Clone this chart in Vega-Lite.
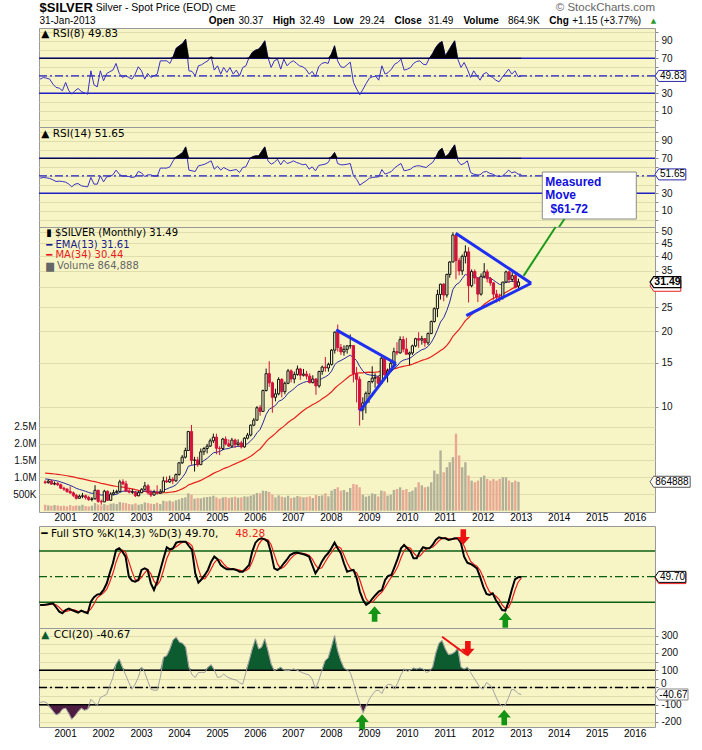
{
"$schema":"https://vega.github.io/schema/vega-lite/v6.json",
"background":"white",
"padding":{"left":12,"top":0,"right":0,"bottom":0},
"bounds":"flush",
"spacing":0,
"config":{"font":"Liberation Sans","axis":{"labelFont":"Liberation Sans","labelFontSize":10,"labelColor":"#111"},"text":{"font":"DejaVu Sans","fontSize":10.5}},
"datasets":{"m":[
{"d":"2000-05-01","o":5.00,"h":5.08,"l":4.90,"c":4.97,"v":180000,"e":5.139,"m":5.422,"r8":46.2,"r14":47.3,"k":16.9,"kd":17.2,"cci":-87},
{"d":"2000-06-01","o":4.97,"h":5.12,"l":4.92,"c":5.04,"v":160000,"e":5.125,"m":5.410,"r8":48.1,"r14":48.1,"k":16.9,"kd":16.9,"cci":-82},
{"d":"2000-07-01","o":5.04,"h":5.10,"l":4.88,"c":4.90,"v":150000,"e":5.093,"m":5.394,"r8":47.3,"r14":47.7,"k":17.3,"kd":17.03,"cci":-87},
{"d":"2000-08-01","o":4.90,"h":5.02,"l":4.85,"c":4.93,"v":170000,"e":5.070,"m":5.378,"r8":46.2,"r14":47.0,"k":18.1,"kd":17.43,"cci":-113},
{"d":"2000-09-01","o":4.93,"h":5.00,"l":4.82,"c":4.87,"v":160000,"e":5.041,"m":5.361,"r8":40.5,"r14":45.4,"k":18.8,"kd":18.07,"cci":-136},
{"d":"2000-10-01","o":4.87,"h":4.92,"l":4.68,"c":4.72,"v":140000,"e":4.995,"m":5.340,"r8":36.7,"r14":43.5,"k":14.2,"kd":17.03,"cci":-159},
{"d":"2000-11-01","o":4.72,"h":4.78,"l":4.60,"c":4.68,"v":150000,"e":4.950,"m":5.317,"r8":35.9,"r14":43.9,"k":9.1,"kd":14.03,"cci":-151},
{"d":"2000-12-01","o":4.68,"h":4.72,"l":4.52,"c":4.58,"v":130000,"e":4.897,"m":5.291,"r8":32.9,"r14":43.5,"k":7.2,"kd":10.17,"cci":-126},
{"d":"2001-01-01","o":4.58,"h":4.80,"l":4.48,"c":4.52,"v":170000,"e":4.843,"m":5.264,"r8":42.4,"r14":42.8,"k":11.0,"kd":9.1,"cci":-120},
{"d":"2001-02-01","o":4.52,"h":4.58,"l":4.35,"c":4.42,"v":140000,"e":4.783,"m":5.234,"r8":32.9,"r14":40.5,"k":12.6,"kd":10.27,"cci":-151},
{"d":"2001-03-01","o":4.42,"h":4.48,"l":4.25,"c":4.30,"v":160000,"e":4.714,"m":5.200,"r8":29.0,"r14":37.4,"k":11.0,"kd":11.53,"cci":-184},
{"d":"2001-04-01","o":4.30,"h":4.45,"l":4.28,"c":4.38,"v":150000,"e":4.666,"m":5.168,"r8":32.9,"r14":40.5,"k":9.5,"kd":11.03,"cci":-165},
{"d":"2001-05-01","o":4.38,"h":4.52,"l":4.30,"c":4.40,"v":180000,"e":4.628,"m":5.138,"r8":35.5,"r14":41.2,"k":7.9,"kd":9.47,"cci":-140},
{"d":"2001-06-01","o":4.40,"h":4.45,"l":4.25,"c":4.33,"v":140000,"e":4.585,"m":5.105,"r8":32.1,"r14":38.6,"k":10.3,"kd":9.23,"cci":-120},
{"d":"2001-07-01","o":4.33,"h":4.40,"l":4.20,"c":4.25,"v":130000,"e":4.537,"m":5.069,"r8":30.6,"r14":37.8,"k":8.7,"kd":8.97,"cci":-132},
{"d":"2001-08-01","o":4.25,"h":4.35,"l":4.18,"c":4.28,"v":150000,"e":4.500,"m":5.035,"r8":29.0,"r14":37.4,"k":7.2,"kd":8.73,"cci":-126},
{"d":"2001-09-01","o":4.28,"h":4.85,"l":4.25,"c":4.63,"v":230000,"e":4.519,"m":5.011,"r8":55.7,"r14":48.1,"k":20.8,"kd":12.23,"cci":-68},
{"d":"2001-10-01","o":4.63,"h":4.65,"l":4.12,"c":4.18,"v":190000,"e":4.471,"m":4.974,"r8":39.7,"r14":40.5,"k":25.9,"kd":17.97,"cci":-87},
{"d":"2001-11-01","o":4.18,"h":4.25,"l":4.05,"c":4.16,"v":160000,"e":4.427,"m":4.936,"r8":37.4,"r14":40.5,"k":29.0,"kd":25.23,"cci":-107},
{"d":"2001-12-01","o":4.16,"h":4.65,"l":4.15,"c":4.59,"v":200000,"e":4.450,"m":4.910,"r8":55.7,"r14":50.0,"k":29.7,"kd":28.2,"cci":-58},
{"d":"2002-01-01","o":4.59,"h":4.62,"l":4.20,"c":4.22,"v":170000,"e":4.417,"m":4.874,"r8":44.3,"r14":43.1,"k":34.4,"kd":31.03,"cci":-49},
{"d":"2002-02-01","o":4.22,"h":4.55,"l":4.20,"c":4.47,"v":210000,"e":4.425,"m":4.845,"r8":52.7,"r14":48.9,"k":42.2,"kd":35.43,"cci":-39},
{"d":"2002-03-01","o":4.47,"h":4.65,"l":4.42,"c":4.53,"v":220000,"e":4.440,"m":4.818,"r8":54.6,"r14":49.2,"k":53.9,"kd":43.5,"cci":10},
{"d":"2002-04-01","o":4.53,"h":4.65,"l":4.50,"c":4.58,"v":200000,"e":4.460,"m":4.793,"r8":56.5,"r14":51.1,"k":65.6,"kd":53.9,"cci":58},
{"d":"2002-05-01","o":4.58,"h":5.10,"l":4.55,"c":5.00,"v":260000,"e":4.537,"m":4.779,"r8":64.1,"r14":56.5,"k":81.2,"kd":66.9,"cci":136},
{"d":"2002-06-01","o":5.00,"h":5.12,"l":4.85,"c":4.91,"v":240000,"e":4.590,"m":4.764,"r8":52.7,"r14":51.9,"k":83.1,"kd":76.63,"cci":165},
{"d":"2002-07-01","o":4.91,"h":5.05,"l":4.55,"c":4.60,"v":230000,"e":4.591,"m":4.739,"r8":48.1,"r14":49.6,"k":79.2,"kd":81.17,"cci":117},
{"d":"2002-08-01","o":4.60,"h":4.70,"l":4.50,"c":4.55,"v":200000,"e":4.585,"m":4.712,"r8":50.0,"r14":49.6,"k":73.4,"kd":78.57,"cci":74},
{"d":"2002-09-01","o":4.55,"h":4.68,"l":4.48,"c":4.55,"v":190000,"e":4.580,"m":4.686,"r8":48.1,"r14":49.2,"k":50.0,"kd":67.53,"cci":29},
{"d":"2002-10-01","o":4.55,"h":4.60,"l":4.35,"c":4.40,"v":220000,"e":4.554,"m":4.655,"r8":46.2,"r14":48.1,"k":45.3,"kd":56.23,"cci":-10},
{"d":"2002-11-01","o":4.40,"h":4.60,"l":4.38,"c":4.53,"v":180000,"e":4.551,"m":4.628,"r8":51.9,"r14":48.9,"k":44.2,"kd":46.5,"cci":19},
{"d":"2002-12-01","o":4.53,"h":4.72,"l":4.50,"c":4.67,"v":200000,"e":4.568,"m":4.605,"r8":60.3,"r14":55.0,"k":46.1,"kd":45.2,"cci":58},
{"d":"2003-01-01","o":4.67,"h":5.00,"l":4.65,"c":4.82,"v":250000,"e":4.604,"m":4.586,"r8":55.7,"r14":53.4,"k":57.8,"kd":49.37,"cci":117},
{"d":"2003-02-01","o":4.82,"h":4.90,"l":4.45,"c":4.52,"v":230000,"e":4.592,"m":4.573,"r8":46.2,"r14":49.2,"k":59.7,"kd":54.53,"cci":87},
{"d":"2003-03-01","o":4.52,"h":4.65,"l":4.35,"c":4.43,"v":210000,"e":4.569,"m":4.557,"r8":52.7,"r14":51.1,"k":57.8,"kd":58.43,"cci":39},
{"d":"2003-04-01","o":4.43,"h":4.65,"l":4.40,"c":4.55,"v":200000,"e":4.566,"m":4.543,"r8":48.1,"r14":51.1,"k":42.2,"kd":53.23,"cci":-10},
{"d":"2003-05-01","o":4.55,"h":4.85,"l":4.45,"c":4.50,"v":240000,"e":4.557,"m":4.531,"r8":50.0,"r14":49.6,"k":34.4,"kd":44.8,"cci":-16},
{"d":"2003-06-01","o":4.50,"h":4.68,"l":4.48,"c":4.56,"v":200000,"e":4.557,"m":4.520,"r8":51.9,"r14":49.6,"k":44.2,"kd":40.27,"cci":-16},
{"d":"2003-07-01","o":4.56,"h":5.25,"l":4.55,"c":5.05,"v":300000,"e":4.627,"m":4.525,"r8":67.1,"r14":58.8,"k":57.8,"kd":45.47,"cci":58},
{"d":"2003-08-01","o":5.05,"h":5.25,"l":4.95,"c":5.00,"v":280000,"e":4.680,"m":4.534,"r8":67.1,"r14":58.8,"k":71.4,"kd":57.8,"cci":175},
{"d":"2003-09-01","o":5.00,"h":5.30,"l":4.95,"c":5.12,"v":300000,"e":4.743,"m":4.546,"r8":67.1,"r14":58.8,"k":84.3,"kd":71.17,"cci":184},
{"d":"2003-10-01","o":5.12,"h":5.22,"l":4.90,"c":5.05,"v":270000,"e":4.787,"m":4.560,"r8":64.1,"r14":60.3,"k":81.9,"kd":79.2,"cci":223},
{"d":"2003-11-01","o":5.05,"h":5.40,"l":5.00,"c":5.35,"v":310000,"e":4.867,"m":4.585,"r8":71.7,"r14":67.1,"k":83.1,"kd":83.1,"cci":276},
{"d":"2003-12-01","o":5.35,"h":6.00,"l":5.30,"c":5.96,"v":340000,"e":5.023,"m":4.630,"r8":81.6,"r14":71.7,"k":89.7,"kd":84.9,"cci":291},
{"d":"2004-01-01","o":5.96,"h":6.40,"l":5.90,"c":6.28,"v":380000,"e":5.203,"m":4.688,"r8":84.3,"r14":74.0,"k":90.9,"kd":87.9,"cci":262},
{"d":"2004-02-01","o":6.28,"h":6.85,"l":6.20,"c":6.68,"v":400000,"e":5.414,"m":4.756,"r8":87.0,"r14":76.7,"k":90.9,"kd":90.5,"cci":256},
{"d":"2004-03-01","o":6.68,"h":8.00,"l":6.65,"c":7.95,"v":520000,"e":5.776,"m":4.860,"r8":91.9,"r14":83.1,"k":90.9,"kd":90.9,"cci":233},
{"d":"2004-04-01","o":7.95,"h":8.45,"l":5.85,"c":6.10,"v":480000,"e":5.822,"m":4.912,"r8":55.7,"r14":56.5,"k":85.8,"kd":89.2,"cci":117},
{"d":"2004-05-01","o":6.10,"h":6.30,"l":5.50,"c":6.12,"v":360000,"e":5.865,"m":4.967,"r8":55.0,"r14":55.7,"k":81.2,"kd":85.97,"cci":74},
{"d":"2004-06-01","o":6.12,"h":6.30,"l":5.75,"c":5.86,"v":380000,"e":5.864,"m":5.014,"r8":50.0,"r14":55.0,"k":53.9,"kd":73.63,"cci":58},
{"d":"2004-07-01","o":5.86,"h":6.80,"l":5.85,"c":6.60,"v":370000,"e":5.969,"m":5.072,"r8":61.4,"r14":61.4,"k":43.0,"kd":59.37,"cci":87},
{"d":"2004-08-01","o":6.60,"h":6.90,"l":6.40,"c":6.80,"v":400000,"e":6.088,"m":5.149,"r8":62.6,"r14":62.2,"k":46.9,"kd":47.93,"cci":87},
{"d":"2004-09-01","o":6.80,"h":7.10,"l":6.50,"c":6.95,"v":410000,"e":6.211,"m":5.231,"r8":65.2,"r14":63.3,"k":52.0,"kd":47.3,"cci":87},
{"d":"2004-10-01","o":6.95,"h":7.45,"l":6.90,"c":7.30,"v":420000,"e":6.367,"m":5.311,"r8":67.1,"r14":65.2,"k":57.8,"kd":52.23,"cci":117},
{"d":"2004-11-01","o":7.30,"h":7.80,"l":7.15,"c":7.55,"v":450000,"e":6.536,"m":5.409,"r8":71.7,"r14":67.1,"k":67.5,"kd":59.1,"cci":132},
{"d":"2004-12-01","o":7.55,"h":7.80,"l":6.45,"c":6.82,"v":400000,"e":6.577,"m":5.478,"r8":56.5,"r14":57.6,"k":73.4,"kd":66.23,"cci":101},
{"d":"2005-01-01","o":6.82,"h":6.95,"l":6.40,"c":6.80,"v":360000,"e":6.609,"m":5.544,"r8":61.4,"r14":61.0,"k":70.3,"kd":70.4,"cci":58},
{"d":"2005-02-01","o":6.80,"h":7.50,"l":6.70,"c":7.42,"v":400000,"e":6.725,"m":5.628,"r8":51.9,"r14":56.5,"k":63.6,"kd":69.1,"cci":62},
{"d":"2005-03-01","o":7.42,"h":7.60,"l":7.00,"c":7.10,"v":410000,"e":6.779,"m":5.690,"r8":59.5,"r14":59.5,"k":60.9,"kd":64.93,"cci":78},
{"d":"2005-04-01","o":7.10,"h":7.40,"l":6.90,"c":6.95,"v":380000,"e":6.803,"m":5.750,"r8":53.8,"r14":57.6,"k":58.6,"kd":61.03,"cci":62},
{"d":"2005-05-01","o":6.95,"h":7.50,"l":6.85,"c":7.35,"v":400000,"e":6.881,"m":5.831,"r8":59.5,"r14":55.7,"k":58.6,"kd":59.37,"cci":54},
{"d":"2005-06-01","o":7.35,"h":7.45,"l":6.85,"c":7.05,"v":420000,"e":6.905,"m":5.904,"r8":51.9,"r14":56.5,"k":59.0,"kd":58.73,"cci":47},
{"d":"2005-07-01","o":7.05,"h":7.40,"l":6.95,"c":7.16,"v":390000,"e":6.941,"m":5.981,"r8":56.5,"r14":57.2,"k":57.8,"kd":58.47,"cci":43},
{"d":"2005-08-01","o":7.16,"h":7.30,"l":6.80,"c":6.90,"v":400000,"e":6.935,"m":6.054,"r8":50.0,"r14":53.8,"k":55.8,"kd":57.53,"cci":27},
{"d":"2005-09-01","o":6.90,"h":7.55,"l":6.85,"c":7.48,"v":430000,"e":7.013,"m":6.141,"r8":59.5,"r14":59.5,"k":55.8,"kd":56.47,"cci":19},
{"d":"2005-10-01","o":7.48,"h":7.85,"l":7.40,"c":7.70,"v":420000,"e":7.111,"m":6.230,"r8":61.4,"r14":60.3,"k":59.7,"kd":57.1,"cci":87},
{"d":"2005-11-01","o":7.70,"h":8.50,"l":7.60,"c":8.43,"v":450000,"e":7.299,"m":6.336,"r8":71.0,"r14":67.9,"k":63.6,"kd":59.7,"cci":155},
{"d":"2005-12-01","o":8.43,"h":9.00,"l":8.35,"c":8.83,"v":480000,"e":7.518,"m":6.463,"r8":76.7,"r14":71.7,"k":79.2,"kd":67.5,"cci":223},
{"d":"2006-01-01","o":8.83,"h":10.05,"l":8.80,"c":9.90,"v":530000,"e":7.858,"m":6.624,"r8":79.3,"r14":72.9,"k":89.7,"kd":77.5,"cci":282},
{"d":"2006-02-01","o":9.90,"h":10.15,"l":9.20,"c":9.57,"v":520000,"e":8.103,"m":6.772,"r8":80.5,"r14":72.9,"k":93.6,"kd":87.5,"cci":223},
{"d":"2006-03-01","o":9.57,"h":11.70,"l":9.55,"c":11.60,"v":600000,"e":8.603,"m":6.981,"r8":84.3,"r14":77.8,"k":94.8,"kd":92.7,"cci":233},
{"d":"2006-04-01","o":11.60,"h":14.20,"l":11.50,"c":13.55,"v":590000,"e":9.310,"m":7.245,"r8":90.0,"r14":83.1,"k":93.6,"kd":94.0,"cci":282},
{"d":"2006-05-01","o":13.55,"h":15.20,"l":12.00,"c":12.45,"v":560000,"e":9.759,"m":7.463,"r8":71.0,"r14":67.1,"k":90.9,"kd":93.1,"cci":214},
{"d":"2006-06-01","o":12.45,"h":12.60,"l":9.45,"c":10.90,"v":480000,"e":9.922,"m":7.636,"r8":59.5,"r14":63.3,"k":77.3,"kd":87.27,"cci":136},
{"d":"2006-07-01","o":10.90,"h":11.80,"l":10.50,"c":11.25,"v":400000,"e":10.112,"m":7.816,"r8":67.1,"r14":65.2,"k":59.7,"kd":75.97,"cci":97},
{"d":"2006-08-01","o":11.25,"h":13.10,"l":11.10,"c":12.85,"v":460000,"e":10.503,"m":8.046,"r8":69.0,"r14":69.0,"k":57.8,"kd":64.93,"cci":107},
{"d":"2006-09-01","o":12.85,"h":13.00,"l":10.90,"c":11.48,"v":420000,"e":10.643,"m":8.226,"r8":57.6,"r14":62.6,"k":60.5,"kd":59.33,"cci":117},
{"d":"2006-10-01","o":11.48,"h":12.60,"l":11.20,"c":12.40,"v":400000,"e":10.894,"m":8.416,"r8":69.0,"r14":67.9,"k":65.6,"kd":61.3,"cci":101},
{"d":"2006-11-01","o":12.40,"h":14.15,"l":12.30,"c":13.90,"v":450000,"e":11.323,"m":8.640,"r8":61.4,"r14":64.1,"k":70.3,"kd":65.47,"cci":97},
{"d":"2006-12-01","o":13.90,"h":14.10,"l":12.50,"c":12.90,"v":380000,"e":11.548,"m":8.823,"r8":65.2,"r14":65.2,"k":75.3,"kd":70.4,"cci":101},
{"d":"2007-01-01","o":12.90,"h":13.80,"l":12.40,"c":13.45,"v":400000,"e":11.820,"m":8.984,"r8":67.1,"r14":67.1,"k":77.3,"kd":74.3,"cci":107},
{"d":"2007-02-01","o":13.45,"h":14.60,"l":13.30,"c":14.15,"v":440000,"e":12.153,"m":9.221,"r8":64.1,"r14":65.2,"k":78.1,"kd":76.9,"cci":101},
{"d":"2007-03-01","o":14.15,"h":14.30,"l":12.80,"c":13.35,"v":420000,"e":12.324,"m":9.434,"r8":61.4,"r14":64.1,"k":77.3,"kd":77.57,"cci":93},
{"d":"2007-04-01","o":13.35,"h":14.15,"l":13.20,"c":13.50,"v":400000,"e":12.492,"m":9.659,"r8":60.3,"r14":62.6,"k":76.5,"kd":77.3,"cci":85},
{"d":"2007-05-01","o":13.50,"h":13.90,"l":12.85,"c":13.25,"v":410000,"e":12.600,"m":9.854,"r8":57.6,"r14":63.3,"k":75.3,"kd":76.37,"cci":78},
{"d":"2007-06-01","o":13.25,"h":13.60,"l":12.40,"c":12.47,"v":430000,"e":12.581,"m":10.021,"r8":51.9,"r14":57.6,"k":73.4,"kd":75.07,"cci":72},
{"d":"2007-07-01","o":12.47,"h":13.35,"l":12.40,"c":12.90,"v":380000,"e":12.627,"m":10.196,"r8":55.0,"r14":60.3,"k":63.6,"kd":70.77,"cci":49},
{"d":"2007-08-01","o":12.90,"h":13.00,"l":11.15,"c":12.10,"v":470000,"e":12.552,"m":10.337,"r8":48.9,"r14":55.7,"k":53.9,"kd":63.63,"cci":-10},
{"d":"2007-09-01","o":12.10,"h":13.90,"l":11.90,"c":13.83,"v":440000,"e":12.735,"m":10.522,"r8":60.3,"r14":61.8,"k":59.7,"kd":59.07,"cci":39},
{"d":"2007-10-01","o":13.83,"h":14.60,"l":13.40,"c":14.40,"v":460000,"e":12.973,"m":10.745,"r8":64.1,"r14":62.6,"k":67.5,"kd":60.37,"cci":97},
{"d":"2007-11-01","o":14.40,"h":15.80,"l":13.80,"c":14.28,"v":520000,"e":13.160,"m":10.965,"r8":65.2,"r14":63.3,"k":73.4,"kd":66.87,"cci":155},
{"d":"2007-12-01","o":14.28,"h":15.00,"l":13.80,"c":14.76,"v":430000,"e":13.389,"m":11.181,"r8":64.1,"r14":65.2,"k":77.3,"kd":72.73,"cci":171},
{"d":"2008-01-01","o":14.76,"h":17.00,"l":14.60,"c":16.83,"v":600000,"e":13.881,"m":11.467,"r8":74.8,"r14":71.7,"k":83.1,"kd":77.93,"cci":233},
{"d":"2008-02-01","o":16.83,"h":20.00,"l":16.30,"c":19.84,"v":650000,"e":14.732,"m":11.846,"r8":84.3,"r14":76.7,"k":89.7,"kd":83.37,"cci":301},
{"d":"2008-03-01","o":19.84,"h":21.30,"l":16.60,"c":17.25,"v":700000,"e":15.092,"m":12.137,"r8":67.1,"r14":64.1,"k":83.1,"kd":85.3,"cci":214},
{"d":"2008-04-01","o":17.25,"h":17.80,"l":16.10,"c":16.55,"v":600000,"e":15.300,"m":12.416,"r8":60.3,"r14":62.6,"k":77.3,"kd":83.37,"cci":155},
{"d":"2008-05-01","o":16.55,"h":17.60,"l":16.00,"c":16.95,"v":620000,"e":15.536,"m":12.704,"r8":59.5,"r14":62.6,"k":65.6,"kd":75.33,"cci":113},
{"d":"2008-06-01","o":16.95,"h":17.60,"l":16.30,"c":17.50,"v":560000,"e":15.817,"m":13.016,"r8":62.6,"r14":63.3,"k":55.8,"kd":66.23,"cci":101},
{"d":"2008-07-01","o":17.50,"h":19.45,"l":17.05,"c":17.55,"v":680000,"e":16.065,"m":13.312,"r8":65.6,"r14":64.1,"k":57.0,"kd":59.47,"cci":87},
{"d":"2008-08-01","o":17.55,"h":17.60,"l":12.50,"c":13.55,"v":800000,"e":15.706,"m":13.484,"r8":42.4,"r14":50.0,"k":57.8,"kd":56.87,"cci":29},
{"d":"2008-09-01","o":13.55,"h":14.40,"l":10.40,"c":12.86,"v":780000,"e":15.299,"m":13.615,"r8":34.8,"r14":45.8,"k":48.1,"kd":54.3,"cci":-39},
{"d":"2008-10-01","o":12.86,"h":13.20,"l":8.40,"c":9.70,"v":700000,"e":14.499,"m":13.640,"r8":28.3,"r14":39.3,"k":32.5,"kd":46.13,"cci":-93},
{"d":"2008-11-01","o":9.70,"h":10.90,"l":8.85,"c":10.35,"v":480000,"e":13.906,"m":13.654,"r8":34.8,"r14":42.0,"k":22.7,"kd":34.43,"cci":-146},
{"d":"2008-12-01","o":10.35,"h":11.50,"l":9.40,"c":11.30,"v":420000,"e":13.534,"m":13.704,"r8":41.2,"r14":44.3,"k":16.9,"kd":24.03,"cci":-107},
{"d":"2009-01-01","o":11.30,"h":12.60,"l":10.35,"c":12.60,"v":450000,"e":13.401,"m":13.734,"r8":47.3,"r14":47.3,"k":19.6,"kd":19.73,"cci":-68},
{"d":"2009-02-01","o":12.60,"h":14.50,"l":12.40,"c":13.00,"v":520000,"e":13.344,"m":13.718,"r8":48.9,"r14":48.1,"k":24.7,"kd":20.4,"cci":-39},
{"d":"2009-03-01","o":13.00,"h":13.60,"l":11.90,"c":13.10,"v":500000,"e":13.309,"m":13.737,"r8":49.6,"r14":48.5,"k":28.6,"kd":24.3,"cci":-19},
{"d":"2009-04-01","o":13.10,"h":13.35,"l":11.90,"c":12.40,"v":430000,"e":13.179,"m":13.781,"r8":45.0,"r14":48.9,"k":32.5,"kd":28.6,"cci":-16},
{"d":"2009-05-01","o":12.40,"h":15.80,"l":12.30,"c":15.60,"v":600000,"e":13.525,"m":13.909,"r8":61.4,"r14":57.2,"k":34.4,"kd":31.83,"cci":-35},
{"d":"2009-06-01","o":15.60,"h":15.95,"l":13.30,"c":13.40,"v":580000,"e":13.507,"m":13.925,"r8":51.9,"r14":51.9,"k":46.1,"kd":37.67,"cci":4},
{"d":"2009-07-01","o":13.40,"h":14.20,"l":12.50,"c":13.88,"v":450000,"e":13.560,"m":13.996,"r8":53.8,"r14":53.4,"k":50.8,"kd":43.77,"cci":19},
{"d":"2009-08-01","o":13.88,"h":15.20,"l":13.80,"c":14.90,"v":480000,"e":13.751,"m":14.069,"r8":57.6,"r14":55.0,"k":52.0,"kd":49.63,"cci":16},
{"d":"2009-09-01","o":14.90,"h":17.20,"l":14.50,"c":16.60,"v":620000,"e":14.158,"m":14.149,"r8":63.3,"r14":59.1,"k":61.7,"kd":54.83,"cci":-10},
{"d":"2009-10-01","o":16.60,"h":18.10,"l":16.05,"c":16.40,"v":650000,"e":14.478,"m":14.251,"r8":65.2,"r14":61.8,"k":71.4,"kd":61.7,"cci":29},
{"d":"2009-11-01","o":16.40,"h":19.10,"l":16.30,"c":18.55,"v":700000,"e":15.060,"m":14.401,"r8":69.0,"r14":64.1,"k":83.1,"kd":72.07,"cci":74},
{"d":"2009-12-01","o":18.55,"h":19.15,"l":16.50,"c":16.99,"v":620000,"e":15.336,"m":14.485,"r8":56.5,"r14":55.7,"k":87.0,"kd":80.5,"cci":107},
{"d":"2010-01-01","o":16.99,"h":18.85,"l":16.20,"c":16.21,"v":650000,"e":15.461,"m":14.569,"r8":57.6,"r14":56.5,"k":83.1,"kd":84.4,"cci":93},
{"d":"2010-02-01","o":16.21,"h":16.60,"l":14.65,"c":16.40,"v":560000,"e":15.595,"m":14.654,"r8":59.5,"r14":57.6,"k":79.2,"kd":83.1,"cci":101},
{"d":"2010-03-01","o":16.40,"h":17.70,"l":16.10,"c":17.50,"v":600000,"e":15.867,"m":14.779,"r8":64.1,"r14":60.3,"k":71.4,"kd":77.9,"cci":113},
{"d":"2010-04-01","o":17.50,"h":18.85,"l":17.30,"c":18.70,"v":700000,"e":16.272,"m":14.963,"r8":66.4,"r14":61.4,"k":71.4,"kd":74.0,"cci":107},
{"d":"2010-05-01","o":18.70,"h":19.85,"l":17.20,"c":18.45,"v":850000,"e":16.583,"m":15.126,"r8":67.1,"r14":61.4,"k":79.2,"kd":74.0,"cci":113},
{"d":"2010-06-01","o":18.45,"h":19.20,"l":17.70,"c":18.70,"v":760000,"e":16.885,"m":15.320,"r8":63.3,"r14":60.3,"k":84.3,"kd":78.3,"cci":107},
{"d":"2010-07-01","o":18.70,"h":18.80,"l":17.35,"c":18.00,"v":700000,"e":17.044,"m":15.443,"r8":62.6,"r14":59.5,"k":83.1,"kd":82.2,"cci":87},
{"d":"2010-08-01","o":18.00,"h":19.80,"l":17.65,"c":19.60,"v":720000,"e":17.409,"m":15.596,"r8":70.2,"r14":62.6,"k":83.1,"kd":83.5,"cci":93},
{"d":"2010-09-01","o":19.60,"h":22.10,"l":19.50,"c":21.90,"v":850000,"e":18.051,"m":15.820,"r8":75.5,"r14":65.2,"k":87.0,"kd":84.4,"cci":117},
{"d":"2010-10-01","o":21.90,"h":24.95,"l":21.70,"c":24.65,"v":1200000,"e":18.994,"m":16.111,"r8":82.4,"r14":71.0,"k":92.9,"kd":87.67,"cci":198},
{"d":"2010-11-01","o":24.65,"h":29.35,"l":22.80,"c":28.10,"v":1100000,"e":20.295,"m":16.442,"r8":87.0,"r14":78.6,"k":96.0,"kd":91.97,"cci":256},
{"d":"2010-12-01","o":28.10,"h":31.00,"l":26.80,"c":30.90,"v":1800000,"e":21.810,"m":16.767,"r8":89.2,"r14":81.6,"k":94.8,"kd":94.57,"cci":272},
{"d":"2011-01-01","o":30.90,"h":31.20,"l":26.40,"c":27.95,"v":1150000,"e":22.687,"m":17.082,"r8":72.9,"r14":71.7,"k":94.8,"kd":95.2,"cci":223},
{"d":"2011-02-01","o":27.95,"h":34.00,"l":27.30,"c":33.80,"v":1300000,"e":24.275,"m":17.589,"r8":78.6,"r14":74.8,"k":92.9,"kd":94.17,"cci":190},
{"d":"2011-03-01","o":33.80,"h":38.20,"l":32.80,"c":37.90,"v":1450000,"e":26.221,"m":18.206,"r8":84.3,"r14":80.1,"k":93.6,"kd":93.77,"cci":194},
{"d":"2011-04-01","o":37.90,"h":49.80,"l":37.75,"c":48.60,"v":1600000,"e":29.418,"m":19.120,"r8":90.0,"r14":85.4,"k":94.8,"kd":93.77,"cci":204},
{"d":"2011-05-01","o":48.60,"h":48.80,"l":32.30,"c":38.40,"v":2300000,"e":30.701,"m":19.734,"r8":69.0,"r14":67.1,"k":94.8,"kd":94.4,"cci":229},
{"d":"2011-06-01","o":38.40,"h":39.40,"l":33.50,"c":34.90,"v":1650000,"e":31.301,"m":20.361,"r8":59.5,"r14":62.6,"k":89.0,"kd":92.87,"cci":117},
{"d":"2011-07-01","o":34.90,"h":40.60,"l":33.60,"c":39.90,"v":1300000,"e":32.529,"m":21.157,"r8":65.2,"r14":64.1,"k":73.4,"kd":85.73,"cci":107},
{"d":"2011-08-01","o":39.90,"h":44.20,"l":37.40,"c":41.60,"v":1450000,"e":33.825,"m":22.095,"r8":57.6,"r14":67.1,"k":66.4,"kd":76.27,"cci":117},
{"d":"2011-09-01","o":41.60,"h":43.40,"l":26.10,"c":30.45,"v":1050000,"e":33.343,"m":22.686,"r8":48.1,"r14":53.8,"k":64.8,"kd":68.2,"cci":87},
{"d":"2011-10-01","o":30.45,"h":35.40,"l":30.00,"c":34.70,"v":900000,"e":33.537,"m":23.374,"r8":55.7,"r14":51.9,"k":62.5,"kd":64.57,"cci":58},
{"d":"2011-11-01","o":34.70,"h":35.40,"l":30.95,"c":32.70,"v":850000,"e":33.417,"m":23.966,"r8":50.0,"r14":51.1,"k":59.7,"kd":62.33,"cci":29},
{"d":"2011-12-01","o":32.70,"h":33.00,"l":26.20,"c":28.18,"v":900000,"e":32.669,"m":24.412,"r8":45.0,"r14":51.1,"k":50.0,"kd":57.4,"cci":0},
{"d":"2012-01-01","o":28.18,"h":34.10,"l":27.80,"c":33.20,"v":1000000,"e":32.745,"m":25.003,"r8":51.9,"r14":54.2,"k":38.3,"kd":49.33,"cci":-10},
{"d":"2012-02-01","o":33.20,"h":37.50,"l":32.60,"c":34.60,"v":1050000,"e":33.010,"m":25.656,"r8":53.8,"r14":55.0,"k":29.7,"kd":39.33,"cci":29},
{"d":"2012-03-01","o":34.60,"h":35.35,"l":31.40,"c":32.50,"v":950000,"e":32.937,"m":26.153,"r8":50.0,"r14":53.0,"k":28.6,"kd":32.2,"cci":16},
{"d":"2012-04-01","o":32.50,"h":33.00,"l":30.45,"c":31.25,"v":900000,"e":32.696,"m":26.678,"r8":48.1,"r14":51.9,"k":30.5,"kd":29.6,"cci":-10},
{"d":"2012-05-01","o":31.25,"h":31.50,"l":26.80,"c":28.20,"v":950000,"e":32.054,"m":27.099,"r8":45.0,"r14":50.0,"k":22.7,"kd":27.27,"cci":-54},
{"d":"2012-06-01","o":28.20,"h":29.30,"l":26.10,"c":27.40,"v":900000,"e":31.389,"m":27.467,"r8":43.1,"r14":49.2,"k":16.9,"kd":23.37,"cci":-93},
{"d":"2012-07-01","o":27.40,"h":28.30,"l":26.30,"c":27.35,"v":950000,"e":30.812,"m":27.783,"r8":48.1,"r14":49.6,"k":11.0,"kd":16.87,"cci":-107},
{"d":"2012-08-01","o":27.35,"h":31.55,"l":26.80,"c":31.50,"v":1000000,"e":30.910,"m":28.227,"r8":52.7,"r14":52.7,"k":10.3,"kd":12.73,"cci":-101},
{"d":"2012-09-01","o":31.50,"h":35.00,"l":31.40,"c":34.60,"v":1000000,"e":31.437,"m":28.699,"r8":57.6,"r14":56.5,"k":20.8,"kd":14.03,"cci":-58},
{"d":"2012-10-01","o":34.60,"h":35.00,"l":31.20,"c":32.25,"v":900000,"e":31.553,"m":29.148,"r8":51.9,"r14":53.4,"k":34.4,"kd":21.83,"cci":-10},
{"d":"2012-11-01","o":32.25,"h":34.50,"l":31.50,"c":33.40,"v":850000,"e":31.817,"m":29.654,"r8":55.7,"r14":54.6,"k":46.9,"kd":34.03,"cci":-16},
{"d":"2012-12-01","o":33.40,"h":34.15,"l":29.70,"c":30.00,"v":900000,"e":31.557,"m":30.054,"r8":48.9,"r14":51.9,"k":49.2,"kd":43.5,"cci":-35},
{"d":"2013-01-01","o":30.37,"h":32.49,"l":29.24,"c":31.49,"v":864888,"e":31.610,"m":30.440,"r8":49.83,"r14":51.65,"k":49.7,"kd":48.28,"cci":-40.67}
],
"yr":[{"d":"2001-01-01","t":"2001"},{"d":"2002-01-01","t":"2002"},{"d":"2003-01-01","t":"2003"},{"d":"2004-01-01","t":"2004"},{"d":"2005-01-01","t":"2005"},{"d":"2006-01-01","t":"2006"},{"d":"2007-01-01","t":"2007"},{"d":"2008-01-01","t":"2008"},{"d":"2009-01-01","t":"2009"},{"d":"2010-01-01","t":"2010"},{"d":"2011-01-01","t":"2011"},{"d":"2012-01-01","t":"2012"},{"d":"2013-01-01","t":"2013"},{"d":"2014-01-01","t":"2014"},{"d":"2015-01-01","t":"2015"},{"d":"2016-01-01","t":"2016"}]
},
"vconcat":[
{"width":616,"height":28,"view":{"stroke":null,"fill":"white"},
"layer":[
{"data":{"values":[{"d":"2000-04-26","y":20.5,"t":"$SILVER"}]},"mark":{"type":"text","font":"Liberation Sans","fontWeight":"bold","fontSize":13,"align":"left","baseline":"middle","color":"#000"},"encoding":{"x":{"field":"d","type":"temporal","scale":{"domain":[{"year":2000,"month":4,"date":20},{"year":2016,"month":7,"date":10}]},"axis":null},"y":{"field":"y","type":"quantitative","scale":{"domain":[0,28],"nice":false,"zero":false},"axis":null},"text":{"field":"t"}}},
{"data":{"values":[{"d":"2001-10-18","y":20.5,"t":"Silver - Spot Price (EOD)"}]},"mark":{"type":"text","font":"Liberation Sans","fontSize":10.5,"align":"left","baseline":"middle","color":"#000"},"encoding":{"x":{"field":"d","type":"temporal","axis":null},"y":{"field":"y","type":"quantitative","axis":null},"text":{"field":"t"}}},
{"data":{"values":[{"d":"2004-12-14","y":20.5,"t":"CME"}]},"mark":{"type":"text","font":"Liberation Sans","fontSize":9,"align":"left","baseline":"middle","color":"#000"},"encoding":{"x":{"field":"d","type":"temporal","axis":null},"y":{"field":"y","type":"quantitative","axis":null},"text":{"field":"t"}}},
{"data":{"values":[{"d":"2016-07-10","y":20.5,"t":"© StockCharts.com"}]},"mark":{"type":"text","font":"Liberation Sans","fontSize":11.5,"align":"right","baseline":"middle","color":"#666"},"encoding":{"x":{"field":"d","type":"temporal","axis":null},"y":{"field":"y","type":"quantitative","axis":null},"text":{"field":"t"}}},
{"data":{"values":[{"d":"2000-04-24","y":7.2,"t":"31-Jan-2013"},{"d":"2005-07-21","y":7.2,"t":"30.37"},{"d":"2007-03-04","y":7.2,"t":"32.49"},{"d":"2008-09-28","y":7.2,"t":"29.24"},{"d":"2010-07-22","y":7.2,"t":"31.49"},{"d":"2012-08-25","y":7.2,"t":"864.9K"},{"d":"2014-05-06","y":7.2,"t":"+1.15 (+3.77%)"}]},"mark":{"type":"text","font":"Liberation Sans","fontSize":10,"align":"left","baseline":"middle","color":"#000"},"encoding":{"x":{"field":"d","type":"temporal","axis":null},"y":{"field":"y","type":"quantitative","axis":null},"text":{"field":"t"}}},
{"data":{"values":[{"d":"2004-10-09","y":7.2,"t":"Open"},{"d":"2006-06-18","y":7.2,"t":"High"},{"d":"2008-01-22","y":7.2,"t":"Low"},{"d":"2009-08-30","y":7.2,"t":"Close"},{"d":"2011-06-24","y":7.2,"t":"Volume"},{"d":"2013-09-28","y":7.2,"t":"Chg"}]},"mark":{"type":"text","font":"Liberation Sans","fontWeight":"bold","fontSize":10,"align":"left","baseline":"middle","color":"#000"},"encoding":{"x":{"field":"d","type":"temporal","axis":null},"y":{"field":"y","type":"quantitative","axis":null},"text":{"field":"t"}}},
{"data":{"values":[{"d":"2016-06-24","y":7.2,"t":"▲"}]},"mark":{"type":"text","font":"DejaVu Sans","fontSize":7,"align":"center","baseline":"middle","color":"#2a9a2a"},"encoding":{"x":{"field":"d","type":"temporal","axis":null},"y":{"field":"y","type":"quantitative","axis":null},"text":{"field":"t"}}}
]},
{"width":616,"height":99,"data":{"name":"m"},"view":{"fill":"#f7f5c6","stroke":"#999"},
"resolve":{"scale":{"y":"independent"}},
"layer":[
{"data":{"values":[{}]},"mark":{"type":"rule","color":"#1f1fc4","strokeWidth":1.5},"encoding":{"y":{"datum":70,"type":"quantitative","scale":{"domain":[-8.5,104.6],"nice":false,"zero":false},"axis":null}}},
{"data":{"values":[{}]},"mark":{"type":"rule","color":"#1f1fc4","strokeWidth":1.5},"encoding":{"y":{"datum":30,"type":"quantitative","scale":{"domain":[-8.5,104.6],"nice":false,"zero":false},"axis":null}}},
{"data":{"values":[{}]},"mark":{"type":"rule","color":"#1f1fc4","strokeWidth":1.3,"strokeDash":[8,3,2,3]},"encoding":{"y":{"datum":50,"type":"quantitative","scale":{"domain":[-8.5,104.6],"nice":false,"zero":false},"axis":null}}},
{"mark":{"type":"line","color":"#3a30c8","strokeWidth":1},"encoding":{"x":{"field":"d","type":"temporal","scale":{"domain":[{"year":2000,"month":4,"date":20},{"year":2016,"month":7,"date":10}]},"axis":{"values":[{"year":2001},{"year":2002},{"year":2003},{"year":2004},{"year":2005},{"year":2006},{"year":2007},{"year":2008},{"year":2009},{"year":2010},{"year":2011},{"year":2012},{"year":2013},{"year":2014},{"year":2015},{"year":2016}],"labels":false,"ticks":false,"domain":false,"grid":true,"gridColor":"#c5c58f","title":null}},"y":{"field":"r8","type":"quantitative","scale":{"domain":[-8.5,104.6],"nice":false,"zero":false},"axis":{"orient":"right","values":[0,10,20,30,40,50,60,70,80,90,100],"labelExpr":"indexof([10,30,70,90],datum.value)>=0?datum.label:''","grid":true,"gridColor":"#deddab","title":null,"ticks":true,"tickSize":3,"tickColor":"#888","domain":false,"labelPadding":3}}}},
{"mark":{"type":"area","color":"#000","stroke":"#000","strokeWidth":0.5,"opacity":1},"encoding":{"x":{"field":"d","type":"temporal","axis":null},"y":{"field":"r8","type":"quantitative","scale":{"domain":[70,104.6],"range":[30.3,0],"clamp":true,"nice":false,"zero":false},"axis":null},"y2":{"datum":70}}},
{"data":{"values":[{"d":"2000-05-12","y":98.1,"t":"▲ RSI(8) 49.83"}]},"mark":{"type":"text","align":"left","baseline":"middle","color":"#000"},"encoding":{"x":{"field":"d","type":"temporal","axis":null},"y":{"field":"y","type":"quantitative","scale":{"domain":[-8.5,104.6],"nice":false,"zero":false},"axis":null},"text":{"field":"t"}}},
{"data":{"values":[{"d":"2016-07-10","y":49.83}]},"mark":{"type":"point","shape":"M0,0L0.667,-1L5.6,-1L5.6,1L0.667,1Z","size":121,"filled":true,"fill":"white","stroke":"#2a2aa8","strokeWidth":1,"opacity":1},"encoding":{"x":{"field":"d","type":"temporal","axis":null},"y":{"field":"y","type":"quantitative","scale":{"domain":[-8.5,104.6],"nice":false,"zero":false},"axis":null}}},
{"data":{"values":[{"d":"2016-07-10","y":49.83,"t":"49.83"}]},"mark":{"type":"text","font":"Liberation Sans","fontSize":10,"align":"center","baseline":"middle","dx":17.5,"color":"#000"},"encoding":{"x":{"field":"d","type":"temporal","axis":null},"y":{"field":"y","type":"quantitative","scale":{"domain":[-8.5,104.6],"nice":false,"zero":false},"axis":null},"text":{"field":"t"}}}
]},
{"width":616,"height":100,"data":{"name":"m"},"view":{"fill":"#f7f5c6","stroke":"#999"},
"resolve":{"scale":{"y":"independent"}},
"layer":[
{"data":{"values":[{}]},"mark":{"type":"rule","color":"#1f1fc4","strokeWidth":1.5},"encoding":{"y":{"datum":70,"type":"quantitative","scale":{"domain":[-8.5,105.8],"nice":false,"zero":false},"axis":null}}},
{"data":{"values":[{}]},"mark":{"type":"rule","color":"#1f1fc4","strokeWidth":1.5},"encoding":{"y":{"datum":30,"type":"quantitative","scale":{"domain":[-8.5,105.8],"nice":false,"zero":false},"axis":null}}},
{"data":{"values":[{}]},"mark":{"type":"rule","color":"#1f1fc4","strokeWidth":1.3,"strokeDash":[8,3,2,3]},"encoding":{"y":{"datum":50,"type":"quantitative","scale":{"domain":[-8.5,105.8],"nice":false,"zero":false},"axis":null}}},
{"mark":{"type":"line","color":"#3a30c8","strokeWidth":1},"encoding":{"x":{"field":"d","type":"temporal","scale":{"domain":[{"year":2000,"month":4,"date":20},{"year":2016,"month":7,"date":10}]},"axis":{"values":[{"year":2001},{"year":2002},{"year":2003},{"year":2004},{"year":2005},{"year":2006},{"year":2007},{"year":2008},{"year":2009},{"year":2010},{"year":2011},{"year":2012},{"year":2013},{"year":2014},{"year":2015},{"year":2016}],"labels":false,"ticks":false,"domain":false,"grid":true,"gridColor":"#c5c58f","title":null}},"y":{"field":"r14","type":"quantitative","scale":{"domain":[-8.5,105.8],"nice":false,"zero":false},"axis":{"orient":"right","values":[0,10,20,30,40,50,60,70,80,90,100],"labelExpr":"indexof([10,30,70,90],datum.value)>=0?datum.label:''","grid":true,"gridColor":"#deddab","title":null,"ticks":true,"tickSize":3,"tickColor":"#888","domain":false,"labelPadding":3}}}},
{"mark":{"type":"area","color":"#000","stroke":"#000","strokeWidth":0.5,"opacity":1},"encoding":{"x":{"field":"d","type":"temporal","axis":null},"y":{"field":"r14","type":"quantitative","scale":{"domain":[70,105.8],"range":[31.33,0],"clamp":true,"nice":false,"zero":false},"axis":null},"y2":{"datum":70}}},
{"data":{"values":[{"d":"2000-05-12","y":98.1,"t":"▲ RSI(14) 51.65"}]},"mark":{"type":"text","align":"left","baseline":"middle","color":"#000"},"encoding":{"x":{"field":"d","type":"temporal","axis":null},"y":{"field":"y","type":"quantitative","scale":{"domain":[-8.5,105.8],"nice":false,"zero":false},"axis":null},"text":{"field":"t"}}},
{"data":{"values":[{"d":"2013-07-22","y":27.5}]},"mark":{"type":"point","shape":"M0,-1L4,-1L4,1L0,1Z","size":2209,"filled":true,"fill":"white","stroke":"#8a8a8a","strokeWidth":1,"opacity":1},"encoding":{"x":{"field":"d","type":"temporal","axis":null},"y":{"field":"y","type":"quantitative","scale":{"domain":[-8.5,105.8],"nice":false,"zero":false},"axis":null}}},
{"data":{"values":[{"d":"2013-08-20","y":43.3,"t":"Measured"},{"d":"2013-08-20","y":28.1,"t":"Move"},{"d":"2013-10-10","y":11.7,"t":"$61-72"}]},"mark":{"type":"text","font":"Liberation Sans","fontWeight":"bold","fontSize":12,"align":"left","baseline":"middle","color":"#1010dd"},"encoding":{"x":{"field":"d","type":"temporal","axis":null},"y":{"field":"y","type":"quantitative","scale":{"domain":[-8.5,105.8],"nice":false,"zero":false},"axis":null},"text":{"field":"t"}}},
{"data":{"values":[{"d":"2013-12-30","y":-8.5},{"d":"2014-02-20","y":0.63}]},"mark":{"type":"line","color":"#1e9a1e","strokeWidth":2},"encoding":{"x":{"field":"d","type":"temporal","axis":null},"y":{"field":"y","type":"quantitative","scale":{"domain":[-8.5,105.8],"nice":false,"zero":false},"axis":null}}},
{"data":{"values":[{"d":"2016-07-10","y":51.65}]},"mark":{"type":"point","shape":"M0,0L0.667,-1L5.6,-1L5.6,1L0.667,1Z","size":121,"filled":true,"fill":"white","stroke":"#2a2aa8","strokeWidth":1,"opacity":1},"encoding":{"x":{"field":"d","type":"temporal","axis":null},"y":{"field":"y","type":"quantitative","scale":{"domain":[-8.5,105.8],"nice":false,"zero":false},"axis":null}}},
{"data":{"values":[{"d":"2016-07-10","y":51.65,"t":"51.65"}]},"mark":{"type":"text","font":"Liberation Sans","fontSize":10,"align":"center","baseline":"middle","dx":17.5,"color":"#000"},"encoding":{"x":{"field":"d","type":"temporal","axis":null},"y":{"field":"y","type":"quantitative","scale":{"domain":[-8.5,105.8],"nice":false,"zero":false},"axis":null},"text":{"field":"t"}}}
]},
{"width":616,"height":285,"data":{"name":"m"},"view":{"fill":"#f7f5c6","stroke":"#999"},
"resolve":{"scale":{"y":"independent"}},
"layer":[
{"mark":{"type":"bar","width":2.4},"encoding":{"x":{"field":"d","type":"temporal","scale":{"domain":[{"year":2000,"month":4,"date":20},{"year":2016,"month":7,"date":10}]},"axis":{"values":[{"year":2001},{"year":2002},{"year":2003},{"year":2004},{"year":2005},{"year":2006},{"year":2007},{"year":2008},{"year":2009},{"year":2010},{"year":2011},{"year":2012},{"year":2013},{"year":2014},{"year":2015},{"year":2016}],"labels":false,"ticks":false,"domain":false,"grid":true,"gridColor":"#c5c58f","title":null}},"y":{"field":"v","type":"quantitative","scale":{"domain":[-37300,8470000],"nice":false,"zero":false},"axis":{"orient":"left","values":[500000,1000000,1500000,2000000,2500000],"labelExpr":"datum.value>=1000000?format(datum.value/1000000,'.1f')+'M':format(datum.value/1000,'d')+'K'","grid":true,"gridColor":"#deddab","title":null,"ticks":false,"domain":false,"labelPadding":3}},"y2":{"datum":0},"color":{"condition":{"test":"datum.c>=datum.o","value":"#b2b198"},"value":"#e8a994"}}},
{"data":{"values":[{"d":"2016-07-10","y":864888}]},"mark":{"type":"point","shape":"M0,0L0.667,-1L7.3,-1L7.3,1L0.667,1Z","size":121,"filled":true,"fill":"white","stroke":"#555","strokeWidth":1,"opacity":1},"encoding":{"x":{"field":"d","type":"temporal","axis":null},"y":{"field":"y","type":"quantitative","scale":{"domain":[-37300,8470000],"nice":false,"zero":false},"axis":null}}},
{"data":{"values":[{"d":"2016-07-10","y":864888,"t":"864888"}]},"mark":{"type":"text","font":"Liberation Sans","fontSize":10,"align":"center","baseline":"middle","dx":22,"color":"#000"},"encoding":{"x":{"field":"d","type":"temporal","axis":null},"y":{"field":"y","type":"quantitative","scale":{"domain":[-37300,8470000],"nice":false,"zero":false},"axis":null},"text":{"field":"t"}}},
{"mark":{"type":"line","color":"#e8201c","strokeWidth":1.2},"encoding":{"x":{"field":"d","type":"temporal","axis":null},"y":{"field":"m","type":"quantitative","scale":{"type":"log","domain":[3.79,52.3],"nice":false},"axis":{"orient":"right","values":[10,15,20,25,30,35,40,45,50],"labelExpr":"datum.value==30?'':datum.label","grid":true,"gridColor":"#deddab","title":null,"ticks":true,"tickSize":3,"tickColor":"#888","domain":false,"labelPadding":3}}}},
{"mark":{"type":"line","color":"#2b2b9e","strokeWidth":1},"encoding":{"x":{"field":"d","type":"temporal","axis":null},"y":{"field":"e","type":"quantitative","scale":{"type":"log","domain":[3.79,52.3],"nice":false},"axis":null}}},
{"mark":{"type":"rule","strokeWidth":1},"encoding":{"x":{"field":"d","type":"temporal","axis":null},"y":{"field":"l","type":"quantitative","scale":{"type":"log","domain":[3.79,52.3],"nice":false},"axis":null},"y2":{"field":"h"},"color":{"condition":{"test":"datum.c>=datum.o","value":"#111111"},"value":"#d4123c"}}},
{"mark":{"type":"bar","width":2.2,"strokeWidth":1},"encoding":{"x":{"field":"d","type":"temporal","axis":null},"y":{"field":"o","type":"quantitative","scale":{"type":"log","domain":[3.79,52.3],"nice":false},"axis":null},"y2":{"field":"c"},"fill":{"condition":{"test":"datum.c>=datum.o","value":"#f7f5c6"},"value":"#d4123c"},"stroke":{"condition":{"test":"datum.c>=datum.o","value":"#111111"},"value":"#d4123c"}}},
{"data":{"values":[{"g":"a","d":"2011-04-28","p":49.4},{"g":"a","d":"2013-05-05","p":31.16},{"g":"b","d":"2011-08-10","p":23.12},{"g":"b","d":"2013-05-05","p":31.16},{"g":"c","d":"2008-02-15","p":20.28},{"g":"c","d":"2009-09-20","p":14.88},{"g":"e","d":"2008-10-05","p":9.61},{"g":"e","d":"2009-09-20","p":14.88}]},"mark":{"type":"line","color":"#1f2ff0","strokeWidth":3},"encoding":{"x":{"field":"d","type":"temporal","axis":null},"y":{"field":"p","type":"quantitative","scale":{"type":"log","domain":[3.79,52.3],"nice":false},"axis":null},"detail":{"field":"g","type":"nominal"}}},
{"data":{"values":[{"d":"2013-02-20","p":33.35},{"d":"2013-12-30","p":52.3}]},"mark":{"type":"line","color":"#1e9a1e","strokeWidth":2},"encoding":{"x":{"field":"d","type":"temporal","axis":null},"y":{"field":"p","type":"quantitative","scale":{"type":"log","domain":[3.79,52.3],"nice":false},"axis":null}}},
{"data":{"values":[{"d":"2000-05-12","p":49.4,"t":"▮ $SILVER (Monthly) 31.49"}]},"mark":{"type":"text","fontSize":10,"align":"left","baseline":"middle","color":"#000"},"encoding":{"x":{"field":"d","type":"temporal","axis":null},"y":{"field":"p","type":"quantitative","scale":{"type":"log","domain":[3.79,52.3],"nice":false},"axis":null},"text":{"field":"t"}}},
{"data":{"values":[{"d":"2000-05-12","p":44.5,"t":"━ EMA(13) 31.61"}]},"mark":{"type":"text","fontSize":10,"align":"left","baseline":"middle","color":"#1a1a8c"},"encoding":{"x":{"field":"d","type":"temporal","axis":null},"y":{"field":"p","type":"quantitative","scale":{"type":"log","domain":[3.79,52.3],"nice":false},"axis":null},"text":{"field":"t"}}},
{"data":{"values":[{"d":"2000-05-12","p":40.3,"t":"━ MA(34) 30.44"}]},"mark":{"type":"text","fontSize":10,"align":"left","baseline":"middle","color":"#e8201c"},"encoding":{"x":{"field":"d","type":"temporal","axis":null},"y":{"field":"p","type":"quantitative","scale":{"type":"log","domain":[3.79,52.3],"nice":false},"axis":null},"text":{"field":"t"}}},
{"data":{"values":[{"d":"2000-05-12","p":36.4,"t":"▆ Volume 864,888"}]},"mark":{"type":"text","fontSize":10,"align":"left","baseline":"middle","color":"#666"},"encoding":{"x":{"field":"d","type":"temporal","axis":null},"y":{"field":"p","type":"quantitative","scale":{"type":"log","domain":[3.79,52.3],"nice":false},"axis":null},"text":{"field":"t"}}},
{"data":{"values":[{"d":"2016-07-10","p":30.44}]},"mark":{"type":"point","shape":"M0,0L0.667,-1L5.6,-1L5.6,1L0.667,1Z","size":121,"filled":true,"fill":"white","stroke":"#e8201c","strokeWidth":1,"opacity":1},"encoding":{"x":{"field":"d","type":"temporal","axis":null},"y":{"field":"p","type":"quantitative","scale":{"type":"log","domain":[3.79,52.3],"nice":false},"axis":null}}},
{"data":{"values":[{"d":"2016-07-10","p":31.49}]},"mark":{"type":"point","shape":"M0,0L0.667,-1L5.6,-1L5.6,1L0.667,1Z","size":121,"filled":true,"fill":"white","stroke":"#000","strokeWidth":1.2,"opacity":1},"encoding":{"x":{"field":"d","type":"temporal","axis":null},"y":{"field":"p","type":"quantitative","scale":{"type":"log","domain":[3.79,52.3],"nice":false},"axis":null}}},
{"data":{"values":[{"d":"2016-07-10","p":31.49,"t":"31.49"}]},"mark":{"type":"text","font":"Liberation Sans","fontWeight":"bold","fontSize":10.5,"align":"center","baseline":"middle","dx":17.5,"color":"#000"},"encoding":{"x":{"field":"d","type":"temporal","axis":null},"y":{"field":"p","type":"quantitative","scale":{"type":"log","domain":[3.79,52.3],"nice":false},"axis":null},"text":{"field":"t"}}}
]},
{"width":616,"height":14,"data":{"name":"yr"},"view":{"stroke":null},"mark":{"type":"text","font":"Liberation Sans","fontSize":10,"align":"center","baseline":"middle","color":"#000"},"encoding":{"x":{"field":"d","type":"temporal","scale":{"domain":[{"year":2000,"month":4,"date":20},{"year":2016,"month":7,"date":10}]},"axis":null},"y":{"datum":7.7,"type":"quantitative","scale":{"domain":[0,14],"nice":false,"zero":false},"axis":null},"text":{"field":"t"}}},
{"width":616,"height":102,"data":{"name":"m"},"view":{"fill":"#f7f5c6","stroke":"#999"},
"layer":[
{"data":{"values":[{}]},"mark":{"type":"rule","color":"#0b5e14","strokeWidth":1.5},"encoding":{"y":{"datum":80,"type":"quantitative","axis":null}}},
{"data":{"values":[{}]},"mark":{"type":"rule","color":"#0b5e14","strokeWidth":1.5},"encoding":{"y":{"datum":20,"type":"quantitative","axis":null}}},
{"data":{"values":[{}]},"mark":{"type":"rule","color":"#0b5e14","strokeWidth":1.3,"strokeDash":[8,3,2,3]},"encoding":{"y":{"datum":50,"type":"quantitative","axis":null}}},
{"mark":{"type":"line","color":"#ee1c1c","strokeWidth":1.2},"encoding":{"x":{"field":"d","type":"temporal","axis":null},"y":{"field":"kd","type":"quantitative","axis":null}}},
{"mark":{"type":"line","color":"#000","strokeWidth":2},"encoding":{"x":{"field":"d","type":"temporal","scale":{"domain":[{"year":2000,"month":4,"date":20},{"year":2016,"month":7,"date":10}]},"axis":{"values":[{"year":2001},{"year":2002},{"year":2003},{"year":2004},{"year":2005},{"year":2006},{"year":2007},{"year":2008},{"year":2009},{"year":2010},{"year":2011},{"year":2012},{"year":2013},{"year":2014},{"year":2015},{"year":2016}],"labels":false,"ticks":false,"domain":false,"grid":true,"gridColor":"#c5c58f","title":null}},"y":{"field":"k","type":"quantitative","scale":{"domain":[-10.06,109.2],"nice":false,"zero":false},"axis":{"orient":"right","values":[0,10,20,30,40,50,60,70,80,90,100],"labelExpr":"indexof([20,80],datum.value)>=0?datum.label:''","grid":true,"gridColor":"#deddab","title":null,"ticks":true,"tickSize":3,"tickColor":"#888","domain":false,"labelPadding":3}}}},
{"data":{"values":[{"d":"2011-06-23","y":96.4}]},"mark":{"type":"point","shape":"M0,1.1L0.95,0L0.4,0L0.4,-1.1L-0.4,-1.1L-0.4,0L-0.95,0Z","size":196,"filled":true,"color":"#ee1111","opacity":1},"encoding":{"x":{"field":"d","type":"temporal","axis":null},"y":{"field":"y","type":"quantitative","axis":null}}},
{"data":{"values":[{"d":"2009-02-20","y":6.3},{"d":"2012-07-31","y":-0.7}]},"mark":{"type":"point","shape":"M0,-1.1L0.95,0L0.4,0L0.4,1.1L-0.4,1.1L-0.4,0L-0.95,0Z","size":196,"filled":true,"color":"#149414","opacity":1},"encoding":{"x":{"field":"d","type":"temporal","axis":null},"y":{"field":"y","type":"quantitative","axis":null}}},
{"data":{"values":[{"d":"2000-05-12","y":99.5,"t":"━ Full STO %K(14,3) %D(3) 49.70,"}]},"mark":{"type":"text","align":"left","baseline":"middle","color":"#000"},"encoding":{"x":{"field":"d","type":"temporal","axis":null},"y":{"field":"y","type":"quantitative","axis":null},"text":{"field":"t"}}},
{"data":{"values":[{"d":"2005-06-20","y":99.5,"t":"48.28"}]},"mark":{"type":"text","align":"left","baseline":"middle","color":"#ee1c1c"},"encoding":{"x":{"field":"d","type":"temporal","axis":null},"y":{"field":"y","type":"quantitative","axis":null},"text":{"field":"t"}}},
{"data":{"values":[{"d":"2016-07-10","y":48.28}]},"mark":{"type":"point","shape":"M0,0L0.667,-1L5.6,-1L5.6,1L0.667,1Z","size":121,"filled":true,"fill":"white","stroke":"#ee1c1c","strokeWidth":1,"opacity":1},"encoding":{"x":{"field":"d","type":"temporal","axis":null},"y":{"field":"y","type":"quantitative","axis":null}}},
{"data":{"values":[{"d":"2016-07-10","y":49.7}]},"mark":{"type":"point","shape":"M0,0L0.667,-1L5.6,-1L5.6,1L0.667,1Z","size":121,"filled":true,"fill":"white","stroke":"#000","strokeWidth":1,"opacity":1},"encoding":{"x":{"field":"d","type":"temporal","axis":null},"y":{"field":"y","type":"quantitative","axis":null}}},
{"data":{"values":[{"d":"2016-07-10","y":49.7,"t":"49.70"}]},"mark":{"type":"text","font":"Liberation Sans","fontSize":10,"align":"center","baseline":"middle","dx":17.5,"color":"#000"},"encoding":{"x":{"field":"d","type":"temporal","axis":null},"y":{"field":"y","type":"quantitative","axis":null},"text":{"field":"t"}}}
]},
{"width":616,"height":99,"data":{"name":"m"},"view":{"fill":"#f7f5c6","stroke":"#999"},
"resolve":{"scale":{"y":"independent"}},
"layer":[
{"mark":{"type":"area","color":"#0d5c30","stroke":"#9a9a9a","strokeWidth":0.6,"opacity":1},"encoding":{"x":{"field":"d","type":"temporal","axis":null},"y":{"field":"cci","type":"quantitative","scale":{"domain":[100,344.6],"range":[42.2,0],"clamp":true,"nice":false,"zero":false},"axis":null},"y2":{"datum":100}}},
{"mark":{"type":"area","color":"#4e1c40","stroke":"#9a9a9a","strokeWidth":0.6,"opacity":1},"encoding":{"x":{"field":"d","type":"temporal","axis":null},"y":{"field":"cci","type":"quantitative","scale":{"domain":[-229,-100],"range":[99,76.74],"clamp":true,"nice":false,"zero":false},"axis":null},"y2":{"datum":-100}}},
{"data":{"values":[{}]},"mark":{"type":"rule","color":"#000","strokeWidth":1.5},"encoding":{"y":{"datum":100,"type":"quantitative","scale":{"domain":[-229,344.6],"nice":false,"zero":false},"axis":null}}},
{"data":{"values":[{}]},"mark":{"type":"rule","color":"#000","strokeWidth":1.5},"encoding":{"y":{"datum":-100,"type":"quantitative","scale":{"domain":[-229,344.6],"nice":false,"zero":false},"axis":null}}},
{"data":{"values":[{}]},"mark":{"type":"rule","color":"#000","strokeWidth":1.3,"strokeDash":[8,3,2,3]},"encoding":{"y":{"datum":0,"type":"quantitative","scale":{"domain":[-229,344.6],"nice":false,"zero":false},"axis":null}}},
{"mark":{"type":"line","color":"#a3a3a3","strokeWidth":1},"encoding":{"x":{"field":"d","type":"temporal","scale":{"domain":[{"year":2000,"month":4,"date":20},{"year":2016,"month":7,"date":10}]},"axis":{"values":[{"year":2001},{"year":2002},{"year":2003},{"year":2004},{"year":2005},{"year":2006},{"year":2007},{"year":2008},{"year":2009},{"year":2010},{"year":2011},{"year":2012},{"year":2013},{"year":2014},{"year":2015},{"year":2016}],"labels":false,"ticks":false,"domain":false,"grid":true,"gridColor":"#c5c58f","title":null}},"y":{"field":"cci","type":"quantitative","scale":{"domain":[-229,344.6],"nice":false,"zero":false},"axis":{"orient":"right","values":[-200,-150,-100,-50,0,50,100,150,200,250,300],"labelExpr":"indexof([-200,-100,100,200,300],datum.value)>=0?((datum.value<0?'-':'')+abs(datum.value)):''","grid":true,"gridColor":"#deddab","title":null,"ticks":true,"tickSize":3,"tickColor":"#888","domain":false,"labelPadding":3}}}},
{"data":{"values":[{"d":"2016-07-10","y":0,"t":"0"}]},"mark":{"type":"text","font":"Liberation Sans","fontSize":10,"align":"left","baseline":"middle","dx":6,"dy":-3,"color":"#111"},"encoding":{"x":{"field":"d","type":"temporal","axis":null},"y":{"field":"y","type":"quantitative","scale":{"domain":[-229,344.6],"nice":false,"zero":false},"axis":null},"text":{"field":"t"}}},
{"data":{"values":[{"d":"2010-12-01","y":294},{"d":"2011-07-28","y":188}]},"mark":{"type":"line","color":"#ee1111","strokeWidth":2},"encoding":{"x":{"field":"d","type":"temporal","axis":null},"y":{"field":"y","type":"quantitative","scale":{"domain":[-229,344.6],"nice":false,"zero":false},"axis":null}}},
{"data":{"values":[{"d":"2011-08-06","y":224.7}]},"mark":{"type":"point","shape":"M0,1.1L0.95,0L0.4,0L0.4,-1.1L-0.4,-1.1L-0.4,0L-0.95,0Z","size":196,"filled":true,"color":"#ee1111","opacity":1},"encoding":{"x":{"field":"d","type":"temporal","axis":null},"y":{"field":"y","type":"quantitative","scale":{"domain":[-229,344.6],"nice":false,"zero":false},"axis":null}}},
{"data":{"values":[{"d":"2008-10-23","y":-200},{"d":"2012-07-21","y":-174}]},"mark":{"type":"point","shape":"M0,-1.1L0.95,0L0.4,0L0.4,1.1L-0.4,1.1L-0.4,0L-0.95,0Z","size":196,"filled":true,"color":"#149414","opacity":1},"encoding":{"x":{"field":"d","type":"temporal","axis":null},"y":{"field":"y","type":"quantitative","scale":{"domain":[-229,344.6],"nice":false,"zero":false},"axis":null}}},
{"data":{"values":[{"d":"2000-05-12","y":304,"t":"▲"}]},"mark":{"type":"text","align":"left","baseline":"middle","color":"#0d5c30"},"encoding":{"x":{"field":"d","type":"temporal","axis":null},"y":{"field":"y","type":"quantitative","scale":{"domain":[-229,344.6],"nice":false,"zero":false},"axis":null},"text":{"field":"t"}}},
{"data":{"values":[{"d":"2000-09-10","y":304,"t":"CCI(20) -40.67"}]},"mark":{"type":"text","align":"left","baseline":"middle","color":"#000"},"encoding":{"x":{"field":"d","type":"temporal","axis":null},"y":{"field":"y","type":"quantitative","scale":{"domain":[-229,344.6],"nice":false,"zero":false},"axis":null},"text":{"field":"t"}}},
{"data":{"values":[{"d":"2016-07-10","y":-40.67}]},"mark":{"type":"point","shape":"M0,0L0.667,-1L6,-1L6,1L0.667,1Z","size":121,"filled":true,"fill":"white","stroke":"#888","strokeWidth":1,"opacity":1},"encoding":{"x":{"field":"d","type":"temporal","axis":null},"y":{"field":"y","type":"quantitative","scale":{"domain":[-229,344.6],"nice":false,"zero":false},"axis":null}}},
{"data":{"values":[{"d":"2016-07-10","y":-40.67,"t":"-40.67"}]},"mark":{"type":"text","font":"Liberation Sans","fontSize":10,"align":"center","baseline":"middle","dx":18.5,"dy":1,"color":"#000"},"encoding":{"x":{"field":"d","type":"temporal","axis":null},"y":{"field":"y","type":"quantitative","scale":{"domain":[-229,344.6],"nice":false,"zero":false},"axis":null},"text":{"field":"t"}}}
]},
{"width":616,"height":16,"data":{"name":"yr"},"view":{"stroke":null},"mark":{"type":"text","font":"Liberation Sans","fontSize":10,"align":"center","baseline":"middle","color":"#000"},"encoding":{"x":{"field":"d","type":"temporal","scale":{"domain":[{"year":2000,"month":4,"date":20},{"year":2016,"month":7,"date":10}]},"axis":null},"y":{"datum":9,"type":"quantitative","scale":{"domain":[0,16],"nice":false,"zero":false},"axis":null},"text":{"field":"t"}}}
]
}
